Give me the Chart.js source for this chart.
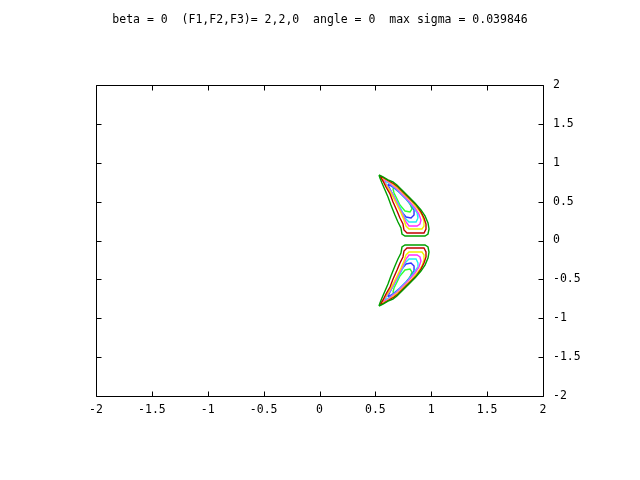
<!DOCTYPE html>
<html>
<head>
<meta charset="utf-8">
<script src="https://cdn.jsdelivr.net/npm/chart.js@4"></script>
<style>
  html, body { margin: 0; padding: 0; background: #fff; }
  #wrap { width: 640px; height: 480px; position: relative; }
</style>
</head>
<body>
<div id="wrap"><canvas id="c" width="640" height="480"></canvas></div>
<script>
const titleText = "beta = 0  (F1,F2,F3)= 2,2,0  angle = 0  max sigma = 0.039846";
const xTickValues = [-2, -1.5, -1, -0.5, 0, 0.5, 1, 1.5, 2];
const xTickLabels = ["-2", "-1.5", "-1", "-0.5", "0", "0.5", "1", "1.5", "2"];
const yTickValues = [-2, -1.5, -1, -0.5, 0, 0.5, 1, 1.5, 2];
const yTickLabels = ["-2", "-1.5", "-1", "-0.5", "0", "0.5", "1", "1.5", "2"];
const levelColors = ["#00a000", "#c00000", "#f0f000", "#ff30ff", "#20f0f0", "#3030ff", "#30ff30"];

// upper lobe contours (outer -> inner)
const upperL1 = [[0.532,0.843],[0.568,0.817],[0.613,0.779],[0.657,0.753],[0.693,0.714],[0.747,0.637],[0.801,0.560],[0.854,0.483],[0.908,0.393],[0.944,0.316],[0.971,0.226],[0.980,0.148],[0.971,0.084],[0.944,0.058],[0.765,0.058],[0.738,0.084],[0.729,0.161],[0.702,0.238],[0.675,0.328],[0.639,0.457],[0.613,0.560],[0.586,0.650],[0.559,0.740],[0.541,0.804],[0.532,0.843]];
const upperL2 = [[0.541,0.830],[0.577,0.804],[0.622,0.765],[0.667,0.727],[0.702,0.688],[0.756,0.611],[0.810,0.534],[0.864,0.457],[0.908,0.367],[0.935,0.289],[0.953,0.212],[0.953,0.148],[0.935,0.096],[0.783,0.096],[0.756,0.135],[0.747,0.212],[0.720,0.289],[0.694,0.379],[0.658,0.495],[0.631,0.598],[0.595,0.688],[0.568,0.765],[0.541,0.830]];
const upperL3 = [[0.550,0.817],[0.586,0.791],[0.631,0.752],[0.676,0.701],[0.720,0.650],[0.774,0.572],[0.828,0.495],[0.881,0.405],[0.917,0.328],[0.935,0.251],[0.935,0.186],[0.917,0.148],[0.801,0.148],[0.774,0.186],[0.756,0.264],[0.729,0.354],[0.694,0.457],[0.658,0.559],[0.622,0.650],[0.586,0.727],[0.559,0.791],[0.550,0.817]];
const upperL4 = [[0.568,0.791],[0.604,0.765],[0.649,0.714],[0.694,0.662],[0.747,0.585],[0.801,0.508],[0.855,0.418],[0.890,0.341],[0.908,0.264],[0.899,0.212],[0.873,0.186],[0.801,0.186],[0.774,0.238],[0.747,0.328],[0.711,0.431],[0.676,0.534],[0.640,0.624],[0.604,0.701],[0.577,0.765],[0.568,0.791]];
const upperL5 = [[0.586,0.765],[0.631,0.727],[0.685,0.662],[0.738,0.585],[0.792,0.508],[0.837,0.431],[0.873,0.354],[0.881,0.289],[0.864,0.238],[0.801,0.238],[0.765,0.289],[0.738,0.379],[0.702,0.482],[0.667,0.572],[0.631,0.650],[0.595,0.727],[0.586,0.765]];
const upperL6 = [[0.613,0.727],[0.667,0.675],[0.720,0.611],[0.774,0.534],[0.819,0.457],[0.846,0.392],[0.846,0.328],[0.819,0.289],[0.774,0.302],[0.738,0.367],[0.711,0.444],[0.676,0.534],[0.649,0.611],[0.622,0.688],[0.613,0.727]];
const upperL7 = [[0.667,0.688],[0.720,0.624],[0.774,0.547],[0.810,0.469],[0.828,0.405],[0.810,0.367],[0.765,0.379],[0.720,0.457],[0.694,0.534],[0.667,0.611],[0.658,0.662],[0.667,0.688]];

// lower lobe contours (outer -> inner)
const lowerL1 = [[0.532,-0.843],[0.568,-0.817],[0.613,-0.779],[0.657,-0.753],[0.693,-0.714],[0.747,-0.637],[0.801,-0.560],[0.854,-0.483],[0.908,-0.393],[0.944,-0.316],[0.971,-0.226],[0.980,-0.148],[0.971,-0.084],[0.944,-0.058],[0.765,-0.058],[0.738,-0.084],[0.729,-0.161],[0.702,-0.238],[0.675,-0.328],[0.639,-0.457],[0.613,-0.560],[0.586,-0.650],[0.559,-0.740],[0.541,-0.804],[0.532,-0.843]];
const lowerL2 = [[0.541,-0.830],[0.577,-0.804],[0.622,-0.765],[0.667,-0.727],[0.702,-0.688],[0.756,-0.611],[0.810,-0.534],[0.864,-0.457],[0.908,-0.367],[0.935,-0.289],[0.953,-0.212],[0.953,-0.148],[0.935,-0.096],[0.783,-0.096],[0.756,-0.135],[0.747,-0.212],[0.720,-0.289],[0.694,-0.379],[0.658,-0.495],[0.631,-0.598],[0.595,-0.688],[0.568,-0.765],[0.541,-0.830]];
const lowerL3 = [[0.550,-0.817],[0.586,-0.791],[0.631,-0.752],[0.676,-0.701],[0.720,-0.650],[0.774,-0.572],[0.828,-0.495],[0.881,-0.405],[0.917,-0.328],[0.935,-0.251],[0.935,-0.186],[0.917,-0.148],[0.801,-0.148],[0.774,-0.186],[0.756,-0.264],[0.729,-0.354],[0.694,-0.457],[0.658,-0.559],[0.622,-0.650],[0.586,-0.727],[0.559,-0.791],[0.550,-0.817]];
const lowerL4 = [[0.568,-0.791],[0.604,-0.765],[0.649,-0.714],[0.694,-0.662],[0.747,-0.585],[0.801,-0.508],[0.855,-0.418],[0.890,-0.341],[0.908,-0.264],[0.899,-0.212],[0.873,-0.186],[0.801,-0.186],[0.774,-0.238],[0.747,-0.328],[0.711,-0.431],[0.676,-0.534],[0.640,-0.624],[0.604,-0.701],[0.577,-0.765],[0.568,-0.791]];
const lowerL5 = [[0.586,-0.765],[0.631,-0.727],[0.685,-0.662],[0.738,-0.585],[0.792,-0.508],[0.837,-0.431],[0.873,-0.354],[0.881,-0.289],[0.864,-0.238],[0.801,-0.238],[0.765,-0.289],[0.738,-0.379],[0.702,-0.482],[0.667,-0.572],[0.631,-0.650],[0.595,-0.727],[0.586,-0.765]];
const lowerL6 = [[0.613,-0.727],[0.667,-0.675],[0.720,-0.611],[0.774,-0.534],[0.819,-0.457],[0.846,-0.392],[0.846,-0.328],[0.819,-0.289],[0.774,-0.302],[0.738,-0.367],[0.711,-0.444],[0.676,-0.534],[0.649,-0.611],[0.622,-0.688],[0.613,-0.727]];
const lowerL7 = [[0.667,-0.688],[0.720,-0.624],[0.774,-0.547],[0.810,-0.469],[0.828,-0.405],[0.810,-0.367],[0.765,-0.379],[0.720,-0.457],[0.694,-0.534],[0.667,-0.611],[0.658,-0.662],[0.667,-0.688]];

const upperContours = [upperL1, upperL2, upperL3, upperL4, upperL5, upperL6, upperL7];
const lowerContours = [lowerL1, lowerL2, lowerL3, lowerL4, lowerL5, lowerL6, lowerL7];

const FONT = "'DejaVu Sans Mono', 'Liberation Mono', monospace";

function mkDataset(pts, color) {
  return {
    data: pts.map(p => ({ x: p[0], y: p[1] })),
    showLine: true,
    borderColor: color,
    backgroundColor: color,
    borderWidth: 1.4,
    pointRadius: 0,
    pointHoverRadius: 0,
    fill: false,
    tension: 0
  };
}

const datasets = [];
upperContours.forEach((c, i) => datasets.push(mkDataset(c, levelColors[i])));
lowerContours.forEach((c, i) => datasets.push(mkDataset(c, levelColors[i])));

const framePlugin = {
  id: 'frame',
  afterDraw(chart) {
    const ctx = chart.ctx;
    const a = chart.chartArea;
    const xs = chart.scales.x, ys = chart.scales.y;
    const L = Math.round(a.left) + 0.5, R = Math.round(a.right) + 0.5;
    const T = Math.round(a.top) + 0.5, B = Math.round(a.bottom) + 0.5;
    ctx.save();
    ctx.strokeStyle = '#000';
    ctx.lineWidth = 1;
    ctx.beginPath();
    ctx.rect(L, T, R - L, B - T);
    const tl = 5;
    xTickValues.forEach(v => {
      const px = Math.round(xs.getPixelForValue(v)) + 0.5;
      ctx.moveTo(px, B); ctx.lineTo(px, B - tl);
      ctx.moveTo(px, T); ctx.lineTo(px, T + tl);
    });
    yTickValues.forEach(v => {
      const py = Math.round(ys.getPixelForValue(v)) + 0.5;
      ctx.moveTo(L, py); ctx.lineTo(L + tl, py);
      ctx.moveTo(R, py); ctx.lineTo(R - tl, py);
    });
    ctx.stroke();
    ctx.fillStyle = '#000';
    ctx.font = "11.5px " + FONT;
    ctx.textAlign = 'center';
    ctx.textBaseline = 'middle';
    ctx.fillText(titleText, 320, 20);
    ctx.restore();
  }
};

new Chart(document.getElementById('c'), {
  type: 'scatter',
  data: { datasets },
  options: {
    responsive: false,
    animation: false,
    devicePixelRatio: 1,
    layout: { padding: { left: 96, top: 85, right: 0, bottom: 0 } },
    plugins: { legend: { display: false }, tooltip: { enabled: false }, title: { display: false } },
    scales: {
      x: {
        type: 'linear', position: 'bottom', min: -2, max: 2,
        grid: { display: false, drawTicks: false },
        border: { display: false },
        afterBuildTicks: s => { s.ticks = xTickValues.map(v => ({ value: v })); },
        afterFit: s => { s.height = 84; },
        ticks: {
          color: '#000', padding: 7, maxRotation: 0, autoSkip: false,
          font: { family: FONT, size: 11.5 },
          callback: (v) => xTickLabels[xTickValues.indexOf(v)]
        }
      },
      y: {
        type: 'linear', position: 'right', min: -2, max: 2,
        grid: { display: false, drawTicks: false },
        border: { display: false },
        afterBuildTicks: s => { s.ticks = yTickValues.map(v => ({ value: v })); },
        afterFit: s => { s.width = 97; },
        ticks: {
          color: '#000', padding: 10, autoSkip: false,
          font: { family: FONT, size: 11.5 },
          callback: (v) => yTickLabels[yTickValues.indexOf(v)]
        }
      }
    }
  },
  plugins: [framePlugin]
});
</script>
</body>
</html>
